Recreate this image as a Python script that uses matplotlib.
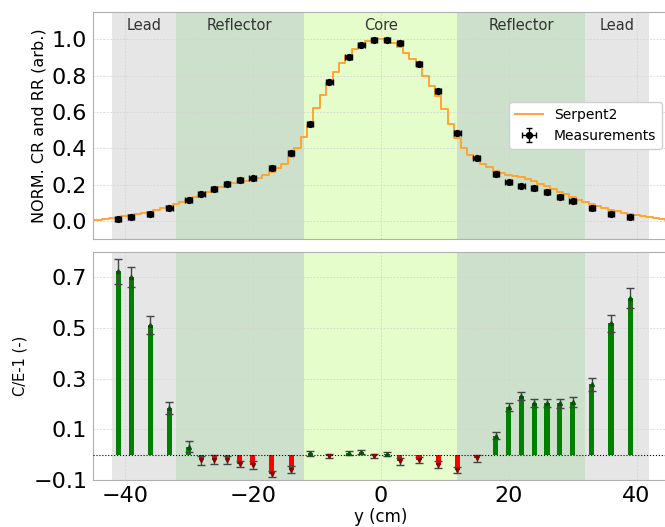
import numpy as np
import matplotlib
matplotlib.use('Agg')
import matplotlib.pyplot as plt

# Measured positions (cm), normalised count rates and C/E-1 values
y_meas = [-41, -39, -36, -33, -30, -28, -26, -24, -22, -20, -17, -14, -11, -8, -5, -3, -1,
          1, 3, 6, 9, 12, 15, 18, 20, 22, 24, 26, 28, 30, 33, 36, 39]
norm_meas = [0.011, 0.020, 0.037, 0.068, 0.114, 0.147, 0.174, 0.205, 0.224, 0.234, 0.293,
             0.374, 0.535, 0.764, 0.903, 0.967, 0.998, 0.998, 0.978, 0.866, 0.714, 0.485,
             0.344, 0.258, 0.212, 0.194, 0.180, 0.158, 0.134, 0.108, 0.071, 0.040, 0.022]
ce_minus_1 = [0.722, 0.700, 0.511, 0.184, 0.032, -0.023, -0.020, -0.022, -0.036, -0.042,
              -0.075, -0.059, 0.005, -0.005, 0.006, 0.010, -0.006, 0.002, -0.027, -0.020,
              -0.040, -0.062, -0.015, 0.074, 0.188, 0.230, 0.204, 0.202, 0.202, 0.209,
              0.278, 0.518, 0.617]
ce_err = [0.050, 0.040, 0.035, 0.024, 0.020, 0.017, 0.017, 0.015, 0.012, 0.015, 0.012,
          0.013, 0.010, 0.008, 0.009, 0.009, 0.008, 0.008, 0.012, 0.012, 0.013, 0.012,
          0.014, 0.014, 0.016, 0.016, 0.016, 0.016, 0.017, 0.020, 0.026, 0.033, 0.039]

# Serpent2 calculation, 1 cm bins centred on integer positions
y_calc = list(range(-45, 46))
norm_calc = [0.003, 0.006, 0.009, 0.013, 0.018, 0.024, 0.030, 0.036, 0.043, 0.050,
             0.059, 0.068, 0.079, 0.090, 0.103, 0.117, 0.130, 0.144, 0.158, 0.171,
             0.186, 0.199, 0.208, 0.216, 0.220, 0.225, 0.235, 0.250, 0.270, 0.290,
             0.315, 0.350, 0.400, 0.460, 0.520, 0.620, 0.692, 0.757, 0.820, 0.870,
             0.908, 0.945, 0.975, 0.990, 0.995, 1.000, 0.995, 0.978, 0.955, 0.925,
             0.890, 0.850, 0.800, 0.745, 0.685, 0.615, 0.535, 0.455, 0.400, 0.365,
             0.340, 0.315, 0.295, 0.277, 0.264, 0.252, 0.246, 0.239, 0.228, 0.217,
             0.204, 0.190, 0.175, 0.161, 0.146, 0.131, 0.117, 0.104, 0.091, 0.081,
             0.071, 0.061, 0.053, 0.045, 0.038, 0.031, 0.025, 0.019, 0.014, 0.009,
             0.005]

# Material regions
region_names = ['Lead', 'Reflector', 'Core', 'Reflector', 'Lead']
region_edges = [-42, -32, -12, 12, 32, 42]
region_colors = ['#e6e6e6', '#cce0cc', '#e4fdcb', '#cce0cc', '#e6e6e6']

fig = plt.figure(figsize=(6.65, 5.27), dpi=100)
ax1 = fig.add_axes([0.1394, 0.5465, 0.866, 0.4307])
ax2 = fig.add_axes([0.1394, 0.0892, 0.866, 0.4332], sharex=ax1)

for ax in (ax1, ax2):
    for name, x0, x1, c in zip(region_names, region_edges[:-1], region_edges[1:], region_colors):
        ax.axvspan(x0, x1, color=c, lw=0, zorder=0)
    ax.grid(True, color='#d4d4d4', ls=(0, (2, 2)), lw=0.6, zorder=1)
    for s in ax.spines.values():
        s.set_color('#b0b0b0')
    ax.tick_params(length=0, labelsize=16, pad=4)

# Top panel
ax1.step(y_calc, norm_calc, where='mid', color='#ffa534', lw=1.4, label='Serpent2', zorder=3)
ax1.errorbar(y_meas, norm_meas, xerr=0.5, yerr=0.01, fmt='o', color='black', ms=4.2,
             capsize=2, elinewidth=1, label='Measurements', zorder=4)
for name, x0, x1 in zip(region_names, region_edges[:-1], region_edges[1:]):
    ax1.text((x0 + x1) / 2, 1.077, name, ha='center', va='center', fontsize=10.5, color='#333333')
ax1.set_ylim(-0.1, 1.15)
ax1.set_yticks([0.0, 0.2, 0.4, 0.6, 0.8, 1.0])
ax1.set_ylabel('NORM. CR and RR (arb.)', fontsize=11.5)
ax1.tick_params(labelbottom=False)
leg = ax1.legend(loc='center right', fontsize=10, framealpha=1, edgecolor='#d0d0d0')

# Bottom panel
bar_colors = ['green' if v >= 0 else 'red' for v in ce_minus_1]
ax2.bar(y_meas, ce_minus_1, width=0.8, color=bar_colors, zorder=3)
ax2.errorbar(y_meas, ce_minus_1, yerr=ce_err, fmt='none', ecolor='#444444', capsize=3,
             elinewidth=1, zorder=4)
pos = [i for i, v in enumerate(ce_minus_1) if v >= 0]
neg = [i for i, v in enumerate(ce_minus_1) if v < 0]
ax2.plot([y_meas[i] for i in pos], [ce_minus_1[i] for i in pos], '^', color='#0a500a', ms=2.8, zorder=5)
ax2.plot([y_meas[i] for i in neg], [ce_minus_1[i] for i in neg], 'v', color='#8b0000', ms=2.8, zorder=5)
ax2.axhline(0, color='black', ls=':', lw=0.8, zorder=4)
ax2.set_ylim(-0.1, 0.8)
ax2.set_yticks([-0.1, 0.1, 0.3, 0.5, 0.7])
ax2.set_xlim(-45, 45)
ax2.set_xticks([-40, -20, 0, 20, 40])
ax2.set_ylabel('C/E-1 (-)', fontsize=10.5)
ax2.set_xlabel('y (cm)', fontsize=12, labelpad=2)

fig.savefig('out.png', dpi=100)
